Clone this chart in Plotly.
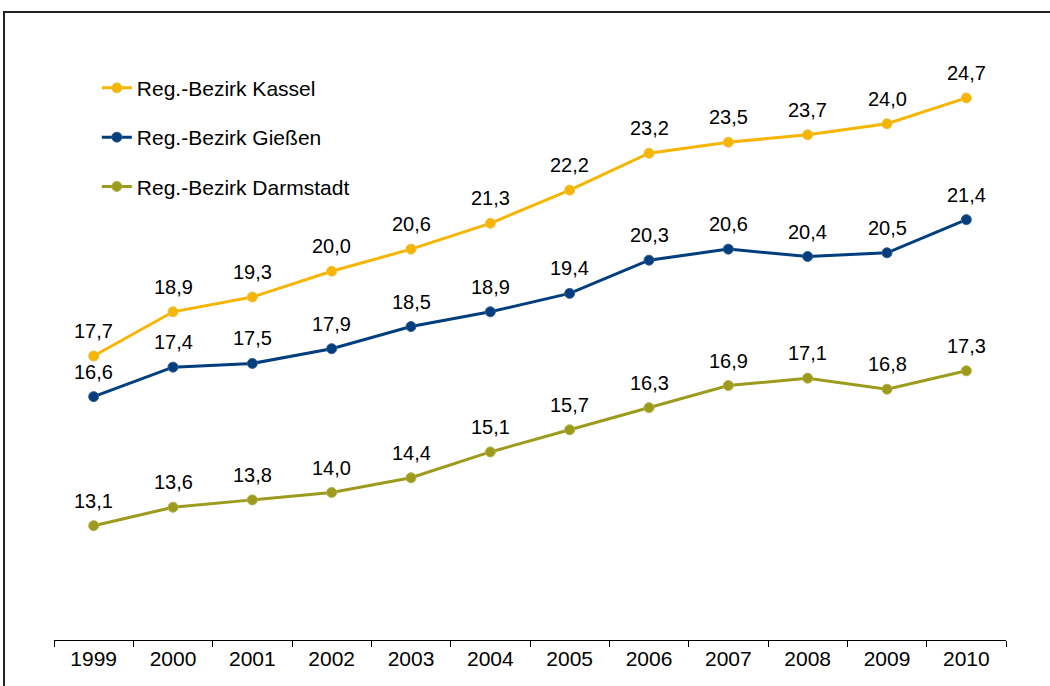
import plotly.graph_objects as go

years = ["1999", "2000", "2001", "2002", "2003", "2004",
         "2005", "2006", "2007", "2008", "2009", "2010"]
kassel = [17.7, 18.9, 19.3, 20.0, 20.6, 21.3, 22.2, 23.2, 23.5, 23.7, 24.0, 24.7]
giessen = [16.6, 17.4, 17.5, 17.9, 18.5, 18.9, 19.4, 20.3, 20.6, 20.4, 20.5, 21.4]
darmstadt = [13.1, 13.6, 13.8, 14.0, 14.4, 15.1, 15.7, 16.3, 16.9, 17.1, 16.8, 17.3]

series = [
    ("Reg.-Bezirk Kassel", kassel, "#F7B500", "#E9C24A"),
    ("Reg.-Bezirk Gießen", giessen, "#003E7E", "#33608F"),
    ("Reg.-Bezirk Darmstadt", darmstadt, "#9C9B1E", "#B3B04A"),
]

fig = go.Figure()
for name, vals, color, edge in series:
    fig.add_trace(go.Scatter(
        x=years, y=vals, name=name, legendgroup=name,
        mode="lines+markers",
        line=dict(color=color, width=3),
        marker=dict(size=10, color=color, line=dict(color=edge, width=1)),
        cliponaxis=False,
    ))
    # value labels sit a fixed distance above each point
    # (category index, since "1999" would be read as a position)
    for i, v in enumerate(vals):
        fig.add_annotation(
            x=i, y=v, text=f"{v:.1f}".replace(".", ","),
            showarrow=False, yanchor="middle", yshift=25,
            font=dict(size=20, color="#000000"),
        )

fig.update_layout(
    width=1050, height=686,
    paper_bgcolor="white", plot_bgcolor="white",
    font=dict(family="Liberation Sans, Arial, sans-serif", color="#000000"),
    margin=dict(l=54, r=44, t=50, b=46),
    showlegend=True,
    legend=dict(x=0.045, y=0.97, xanchor="left", yanchor="top",
                font=dict(size=21), tracegroupgap=19,
                itemwidth=30, bgcolor="rgba(0,0,0,0)"),
    xaxis=dict(type="category", range=[-0.5, 11.5], tickson="boundaries",
               ticks="outside", ticklen=6, tickcolor="#000000",
               showline=True, linecolor="#000000", linewidth=1,
               showgrid=False, tickfont=dict(size=21), zeroline=False),
    yaxis=dict(range=[10, 26], visible=False, showgrid=False),
    shapes=[dict(type="rect", xref="paper", yref="paper",
                 x0=-0.0525, x1=1.06, y0=-0.1, y1=1.0644,
                 line=dict(color="#222222", width=2))],
)

fig.write_html("out.html", config={"displayModeBar": False},
               post_script="document.body.style.margin='0';")
